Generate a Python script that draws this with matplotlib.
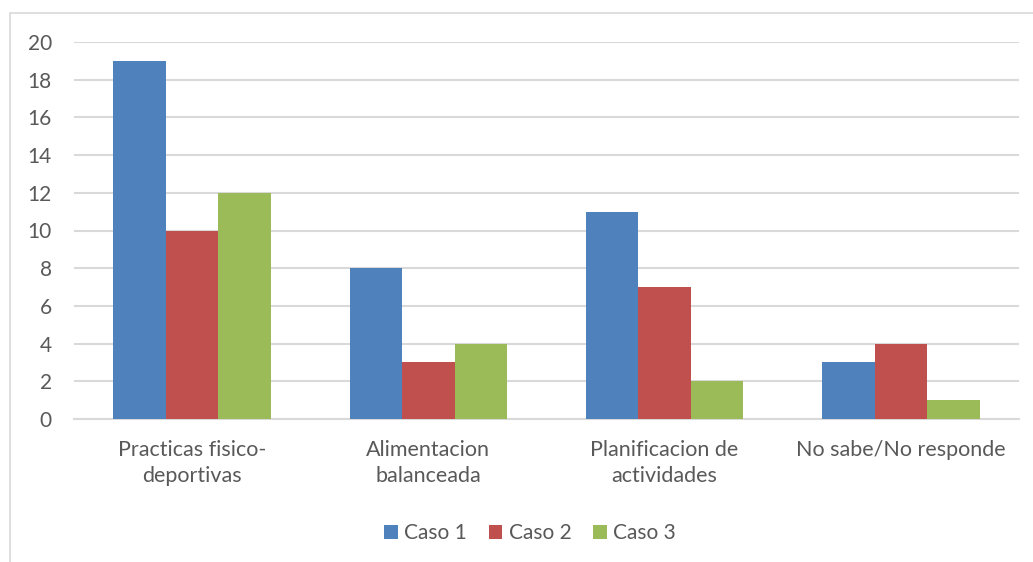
import numpy as np
import matplotlib.pyplot as plt
from matplotlib import patches

categories = ["Practicas fisico-\ndeportivas", "Alimentacion\nbalanceada",
              "Planificacion de\nactividades", "No sabe/No responde"]
series_names = ["Caso 1", "Caso 2", "Caso 3"]
caso1 = [19, 8, 11, 3]
caso2 = [10, 3, 7, 4]
caso3 = [12, 4, 2, 1]
colors = ["#4F81BD", "#C0504D", "#9BBB59"]
yticks = [0, 2, 4, 6, 8, 10, 12, 14, 16, 18, 20]

TEXT = "#595959"
GRID = "#D9D9D9"
W, H = 1033, 562
FS = 15

plt.rcParams["font.family"] = ["Lato", "DejaVu Sans"]

fig = plt.figure(figsize=(W / 100, H / 100), dpi=100, facecolor="white")
ax = fig.add_axes([74 / W, 1 - 419 / H, (1019 - 74) / W, (419 - 42) / H])

# outer chart frame (cut off by image edges on right and bottom)
frame = patches.Rectangle((10 / W, -0.1), 1.2, 1 - 13 / H + 0.1,
                          transform=fig.transFigure, fill=False,
                          edgecolor=GRID, linewidth=1.2, zorder=0)
fig.patches.append(frame)

x = np.arange(len(categories))
bw = 1 / 4.5
for i, (vals, name) in enumerate(zip([caso1, caso2, caso3], series_names)):
    ax.bar(x + (i - 1) * bw, vals, width=bw, color=colors[i], label=name,
           zorder=3, linewidth=0)

ax.set_xlim(-0.5, len(categories) - 0.5)
ax.set_ylim(0, 20)
ax.set_yticks(yticks)
ax.set_xticks(x)
ax.set_xticklabels(categories, fontsize=15.5, color=TEXT, linespacing=1.38)
ax.tick_params(axis="y", labelsize=FS, labelcolor=TEXT, length=0, pad=16)
ax.tick_params(axis="x", length=0, pad=15)
ax.grid(axis="y", color=GRID, linewidth=1.5, zorder=0)
for s in ["top", "right", "left"]:
    ax.spines[s].set_visible(False)
ax.spines["bottom"].set_color(GRID)
ax.spines["bottom"].set_linewidth(1.5)

leg = fig.legend(loc="center", bbox_to_anchor=(530 / W, 1 - 533 / H), ncol=3,
                 frameon=False, fontsize=FS, handlelength=0.65, handleheight=0.65,
                 handletextpad=0.3, columnspacing=1.05)
for t in leg.get_texts():
    t.set_color(TEXT)

fig.savefig("out.png", dpi=100, facecolor="white")
